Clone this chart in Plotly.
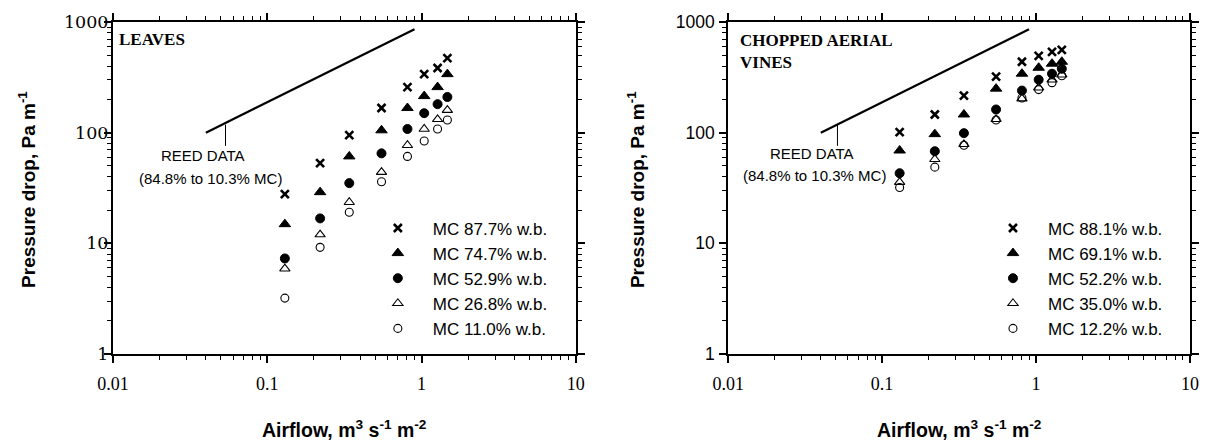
import plotly.graph_objects as go

# ---------------- data ----------------
airflow = [0.13, 0.22, 0.34, 0.55, 0.81, 1.04, 1.27, 1.47]

leaves_labels = ["MC 87.7% w.b.", "MC 74.7% w.b.", "MC 52.9% w.b.", "MC 26.8% w.b.", "MC 11.0% w.b."]
leaves_877 = [27.8, 53, 95, 167, 258, 338, 384, 472]
leaves_747 = [14.9, 29, 61, 105, 167, 214, 258, 338]
leaves_529 = [7.3, 16.8, 35, 65, 108, 150, 181, 210]
leaves_268 = [5.9, 12.0, 23.5, 44, 77, 108, 132, 160]
leaves_110 = [3.2, 9.2, 19.1, 36, 61, 84, 108, 130]

vines_labels = ["MC 88.1% w.b.", "MC 69.1% w.b.", "MC 52.2% w.b.", "MC 35.0% w.b.", "MC 12.2% w.b."]
vines_881 = [101, 146, 216, 321, 437, 495, 537, 560]
vines_691 = [69, 97, 146, 250, 341, 386, 420, 437]
vines_522 = [43, 68, 99, 162, 240, 301, 341, 378]
vines_350 = [35.7, 57.5, 78.5, 132, 203, 255, 301, 334]
vines_122 = [32, 48.8, 77, 130, 206, 245, 283, 327]

reed_x = [0.04, 0.9]
reed_y = [100, 860]
leader_left_x = [0.0536, 0.0536]
leader_right_x = [0.0513, 0.0513]
leader_y = [118, 76]

x_ticks = [0.01, 0.1, 1, 10]
x_ticktext = ["0.01", "0.1", "1", "10"]
y_ticks = [1, 10, 100, 1000]
y_ticktext = ["1", "10", "100", "1000"]

# ---------------- styles ----------------
symbols = ["x-thin-open", "triangle-up", "circle", "triangle-up-open", "circle-open"]
sizes = [8, 10, 9, 9, 8]
linew = [2.6, 1, 1, 1.1, 1.1]

fig = go.Figure()

def add_series(xref, yref, legend, labels, series):
    for lab, ys, sym, sz, lw in zip(labels, series, symbols, sizes, linew):
        fig.add_trace(go.Scatter(
            x=airflow, y=ys, mode="markers", name=lab,
            marker=dict(symbol=sym, size=sz, color="black",
                        line=dict(color="black", width=lw)),
            xaxis=xref, yaxis=yref, legend=legend))

add_series("x", "y", "legend", leaves_labels,
           [leaves_877, leaves_747, leaves_529, leaves_268, leaves_110])
add_series("x2", "y2", "legend2", vines_labels,
           [vines_881, vines_691, vines_522, vines_350, vines_122])

for xa, ya, lx in [("x", "y", leader_left_x), ("x2", "y2", leader_right_x)]:
    fig.add_trace(go.Scatter(x=reed_x, y=reed_y, mode="lines",
                             line=dict(color="black", width=2.2),
                             xaxis=xa, yaxis=ya, showlegend=False, hoverinfo="skip"))
    fig.add_trace(go.Scatter(x=lx, y=leader_y, mode="lines",
                             line=dict(color="black", width=1),
                             xaxis=xa, yaxis=ya, showlegend=False, hoverinfo="skip"))

minor_x = [m * d for d in (0.01, 0.1, 1) for m in range(2, 10)]
minor_y = [m * d for d in (1, 10, 100) for m in range(2, 10)]

def xaxis_cfg(domain):
    return dict(type="log", range=[-2, 1], domain=domain,
                showline=True, linecolor="black", linewidth=2, mirror="ticks",
                ticks="outside", ticklen=7, tickwidth=1.5, tickcolor="black",
                tickvals=x_ticks, ticktext=x_ticktext, ticklabelstandoff=5,
                tickfont=dict(family="Liberation Serif", size=18, color="black"),
                minor=dict(tickvals=minor_x, ticks="outside", ticklen=4,
                           tickwidth=1.2, tickcolor="black", showgrid=False),
                showgrid=False, zeroline=False)

def yaxis_cfg(anchor, fontfam, fsize, standoff):
    return dict(type="log", range=[0, 3], domain=[0, 1], anchor=anchor,
                showline=True, linecolor="black", linewidth=2, mirror="ticks",
                ticks="outside", ticklen=7, tickwidth=1.5, tickcolor="black",
                tickvals=y_ticks, ticktext=y_ticktext, ticklabelstandoff=standoff,
                tickfont=dict(family=fontfam, size=fsize, color="black"),
                minor=dict(tickvals=minor_y, ticks="outside", ticklen=4,
                           tickwidth=1.2, tickcolor="black", showgrid=False),
                showgrid=False, zeroline=False)

W, H = 1211, 443
ml, mr, mt, mb = 113, 16, 21, 89
pw, ph = W - ml - mr, H - mt - mb

def px(x):
    return (x - ml) / pw

def py(y):
    return (H - mb - y) / ph

fig.update_layout(
    width=W, height=H,
    margin=dict(l=ml, r=mr, t=mt, b=mb),
    paper_bgcolor="white", plot_bgcolor="white",
    xaxis=xaxis_cfg([0, px(578)]),
    yaxis=yaxis_cfg("x", "DejaVu Serif", 17.5, -8),
    xaxis2=xaxis_cfg([px(731), 1]),
    yaxis2=yaxis_cfg("x2", "Liberation Sans", 17.5, 1),
    legend=dict(x=px(364), y=py(210), xanchor="left", yanchor="top",
                font=dict(family="Liberation Sans", size=17, color="black"),
                bgcolor="rgba(0,0,0,0)", itemwidth=60, borderwidth=0),
    legend2=dict(x=px(982), y=py(210), xanchor="left", yanchor="top",
                 font=dict(family="Liberation Sans", size=17, color="black"),
                 bgcolor="rgba(0,0,0,0)", itemwidth=60, borderwidth=0),
    showlegend=True,
)

ann = []
ytitle = "<b>Pressure drop, Pa m<sup>-1</sup></b>"
xtitle = "<b>Airflow, m<sup>3</sup> s<sup>-1</sup> m<sup>-2</sup></b>"
yt_font = dict(family="Liberation Sans", size=19, color="black", weight="bold")
xt_font = dict(family="Liberation Sans", size=19.5, color="black", weight="bold")
ann.append(dict(text=ytitle, xref="paper", yref="paper", x=px(27), y=py(189),
                textangle=-90, showarrow=False, xanchor="center", yanchor="middle", font=yt_font))
ann.append(dict(text=ytitle, xref="paper", yref="paper", x=px(639), y=py(189),
                textangle=-90, showarrow=False, xanchor="center", yanchor="middle", font=yt_font))
ann.append(dict(text=xtitle, xref="paper", yref="paper", x=px(345.5), y=py(429),
                showarrow=False, xanchor="center", yanchor="middle", font=xt_font))
ann.append(dict(text=xtitle, xref="paper", yref="paper", x=px(963), y=py(429),
                showarrow=False, xanchor="center", yanchor="middle", font=xt_font))

panel_font = dict(family="Liberation Serif", size=17, color="black", weight="bold")
ann.append(dict(text="LEAVES", xref="paper", yref="paper", x=px(117), y=py(27),
                showarrow=False, xanchor="left", yanchor="top", align="left", font=panel_font))
ann.append(dict(text="CHOPPED AERIAL<br>VINES", xref="paper", yref="paper", x=px(741), y=py(28),
                showarrow=False, xanchor="left", yanchor="top", align="left", font=panel_font))

reed_font = dict(family="Liberation Sans", size=15, color="black")
for xa, ya, c1, c2 in [("x", "y", (-1.419, 1.795), (-1.368, 1.588)),
                       ("x2", "y2", (-1.458, 1.81), (-1.439, 1.616))]:
    ann.append(dict(text="REED DATA", xref=xa, yref=ya, x=c1[0], y=c1[1],
                    showarrow=False, xanchor="center", yanchor="middle", font=reed_font))
    ann.append(dict(text="(84.8% to 10.3% MC)", xref=xa, yref=ya, x=c2[0], y=c2[1],
                    showarrow=False, xanchor="center", yanchor="middle", font=reed_font))

fig.update_layout(annotations=ann)

fig.write_html("out.html",
               config={"displayModeBar": False},
               post_script="document.body.style.margin='0';document.body.style.overflow='hidden';")
